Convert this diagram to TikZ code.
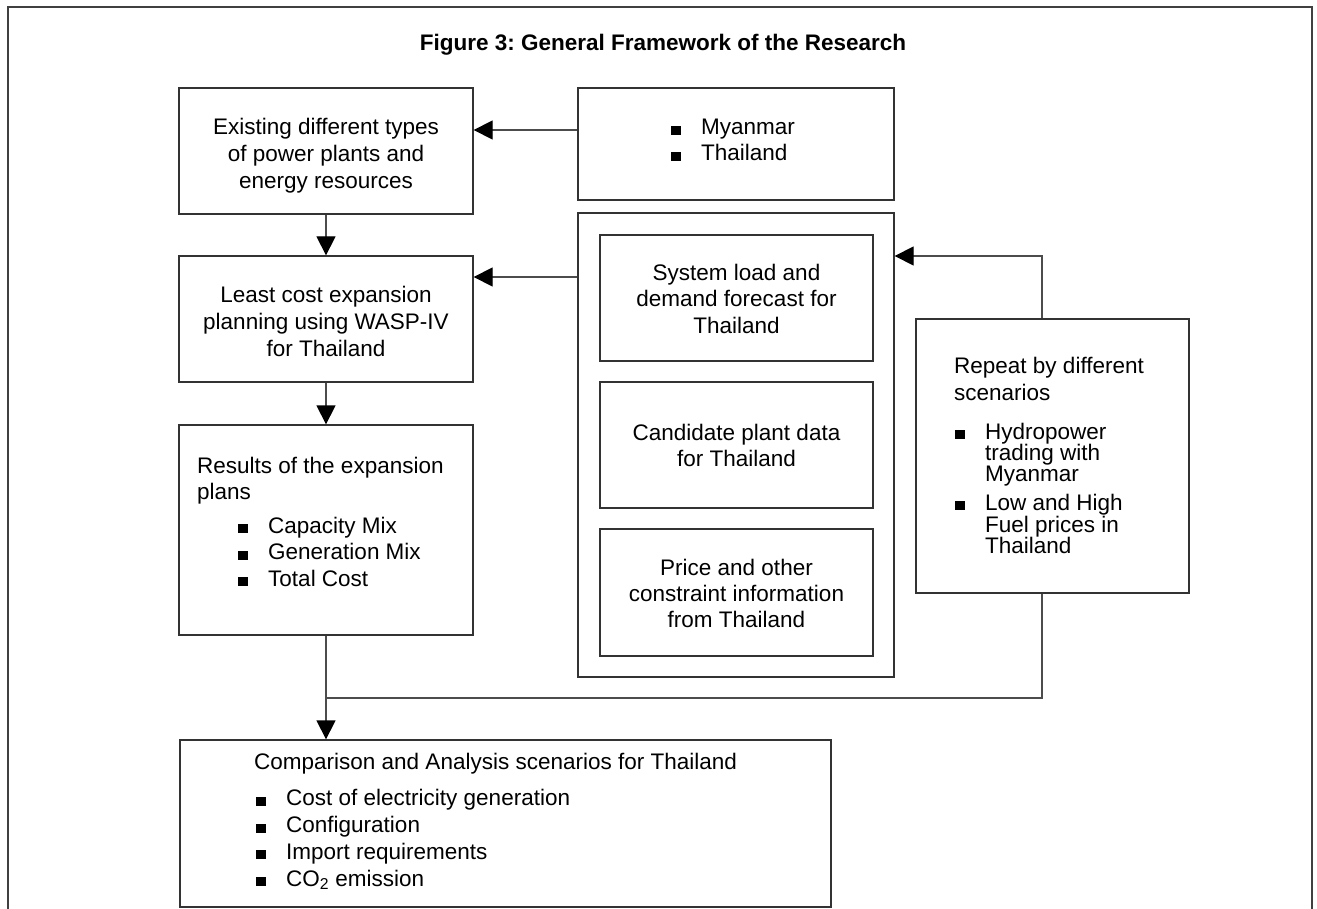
\documentclass[tikz,border=0pt]{standalone}
\usepackage{fontspec}
\setmainfont{Liberation Sans}
\usetikzlibrary{arrows.meta,fit}
\frenchspacing

% square bullet followed by the gap before the item text
\newcommand\sqbullet{\makebox[30pt][l]{\rule{9.5pt}{9pt}}}
\newcommand\itemgap{\hspace*{30pt}}

\begin{document}
\begin{tikzpicture}[x=1pt,y=-1pt,
  box/.style={draw=black!80, line width=1.3pt, inner sep=0pt},
  conn/.style={draw=black!70, line width=1.3pt},
  arr/.style={conn, -{Triangle[length=19pt,width=19pt,color=black]}},
  txt/.style={inner sep=0pt, font=\fontsize{22.5}{27}\selectfont, align=center},
  txtl/.style={inner sep=0pt, font=\fontsize{22.5}{26}\selectfont, align=left, anchor=base west},
]
\useasboundingbox (0,0) rectangle (1317,909);
\fill[white] (0,0) rectangle (1317,909);
\clip (0,0) rectangle (1317,909);

% outer frame, open at the bottom of the page
\draw[draw=black!75, line width=1.4pt] (8,960) -- (8,7) -- (1312,7) -- (1312,960);

% (multi-line text nodes are placed by the baseline of their last line)
\node[txt, anchor=base, font=\fontsize{22.5}{27}\selectfont\bfseries] (title) at (663,51)
  {Figure 3: General Framework of the Research};

% left column
\node[box, fit={(179,88) (473,214)}] (exist) {};
\node[txt, anchor=base] (existT) at (326,189) {Existing different types\\of power plants and\\energy resources};

\node[box, fit={(179,256) (473,382)}] (least) {};
\node[txt, anchor=base] (leastT) at (326,356) {Least cost expansion\\planning using WASP-IV\\for Thailand};

\node[box, fit={(179,425) (473,635)}] (res) {};
\node[txtl] (resT) at (197,499) {Results of the expansion\\plans};
\node[txtl, font=\fontsize{22.5}{26.5}\selectfont] (resL) at (238,586)
  {\sqbullet Capacity Mix\\\sqbullet Generation Mix\\\sqbullet Total Cost};

% countries
\node[box, fit={(578,88) (894,200)}] (myan) {};
\node[txtl] (myanT) at (671,161) {\sqbullet Myanmar\\\sqbullet Thailand};

% input data group
\node[box, fit={(578,213) (894,677)}] (cont) {};
\node[box, fit={(600,235) (873,361)}] (load) {};
\node[txt, anchor=base, font=\fontsize{22.5}{26}\selectfont] (loadT) at (736.5,333)
  {System load and\\demand forecast for\\Thailand};
\node[box, fit={(600,382) (873,508)}] (cand) {};
\node[txt, anchor=base, font=\fontsize{22.5}{26}\selectfont] (candT) at (736.5,466)
  {Candidate plant data\\for Thailand};
\node[box, fit={(600,529) (873,656)}] (price) {};
\node[txt, anchor=base, font=\fontsize{22.5}{26}\selectfont] (priceT) at (736.5,627)
  {Price and other\\constraint information\\from Thailand};

% scenarios
\node[box, fit={(916,319) (1189,593)}] (rep) {};
\node[txtl, font=\fontsize{22.5}{27}\selectfont] (repT) at (954,400) {Repeat by different\\scenarios};
\node[txtl, font=\fontsize{22.5}{27}\selectfont] (repL) at (955,553)
  {\sqbullet Hydropower\\[-6pt]\itemgap trading with\\[-6pt]\itemgap Myanmar\\[2pt]%
   \sqbullet Low and High\\[-5pt]\itemgap Fuel prices in\\[-6pt]\itemgap Thailand};

% analysis
\node[box, fit={(180,740) (831,907)}] (comp) {};
\node[txtl] (compT) at (254,769) {Comparison and Analysis scenarios for Thailand};
\node[txtl, font=\fontsize{22.5}{26.7}\selectfont] (compL) at (256,886)
  {\sqbullet Cost of electricity generation\\\sqbullet Configuration\\\sqbullet Import requirements\\\sqbullet CO\textsubscript{2} emission};

% connectors
\coordinate (jr) at (1042,698);
\draw[arr] (myan.west |- 0,130) -- (exist.east |- 0,130);
\draw[arr] (exist.south) -- (least.north);
\draw[arr] (cont.west |- 0,277) -- (least.east |- 0,277);
\draw[arr] (least.south) -- (res.north);
\draw[arr] (res.south) -- (res.south |- comp.north);
\draw[conn] (rep.south -| jr) -- (jr) -- (jr -| res.south);
\draw[arr] (rep.north -| jr) |- (cont.east |- 0,256);
\end{tikzpicture}
\end{document}
